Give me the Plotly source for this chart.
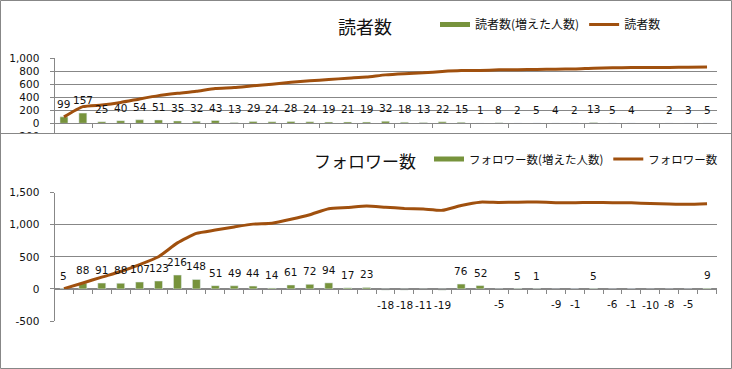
import plotly.graph_objects as go

# ---------------- data ----------------
categories = list(range(35))

reader_increase = [99, 157, 25, 40, 54, 51, 35, 32, 43, 13, 29, 24, 28, 24, 19, 21, 19, 32,
                   18, 13, 22, 15, 1, 8, 2, 5, 4, 2, 13, 5, 4, None, 2, 3, 5]
reader_total = [99, 256, 281, 321, 375, 426, 461, 493, 536, 549, 578, 602, 630, 654, 673, 694,
                713, 745, 763, 776, 798, 813, 814, 822, 824, 829, 833, 835, 848, 853, 857, 857,
                859, 862, 867]

follower_increase = [5, 88, 91, 88, 107, 123, 216, 148, 51, 49, 44, 14, 61, 72, 94, 17, 23,
                     -18, -18, -11, -19, 76, 52, -5, 5, 1, -9, -1, 5, -6, -1, -10, -8, -5, 9]
follower_total = [5, 93, 184, 272, 379, 502, 718, 866, 917, 966, 1010, 1024, 1085, 1157, 1251,
                  1268, 1291, 1273, 1255, 1244, 1225, 1301, 1353, 1348, 1353, 1354, 1345, 1344,
                  1349, 1343, 1342, 1332, 1324, 1319, 1328]

top_ticks = [-200, 0, 200, 400, 600, 800, 1000]
top_ticktext = ["-200", "0", "200", "400", "600", "800", "1,000"]
bot_ticks = [-500, 0, 500, 1000, 1500]
bot_ticktext = ["-500", "0", "500", "1,000", "1,500"]

top_title = "読者数"
top_bar_name = "読者数(増えた人数)"
top_line_name = "読者数"
bot_title = "フォロワー数"
bot_bar_name = "フォロワー数(増えた人数)"
bot_line_name = "フォロワー数"

# ---------------- style ----------------
W, H = 732, 369
BAR = "#77933C"
LINE = "#A0500E"
GRID = "#878787"
NUMFONT = dict(family="DejaVu Sans", size=10.5, color="#111")
CJK = "Noto Sans CJK JP"


def py(p):  # pixel y -> paper
    return 1 - p / H


def px(p):
    return p / W


xdom = [px(54.5), px(716.5)]
top_dom = [py(136.3), py(58.3)]
bot_dom = [py(321.0), py(192.7)]
top_range = [-200, 1000]
bot_range = [-500, 1500]


def zero_pos(dom, rng):
    return dom[0] + (0 - rng[0]) / (rng[1] - rng[0]) * (dom[1] - dom[0])


fig = go.Figure()

# top chart
fig.add_trace(go.Bar(x=categories, y=reader_increase, marker_color=BAR, width=0.42,
                     showlegend=False, xaxis="x", yaxis="y", hoverinfo="skip"))
fig.add_trace(go.Scatter(x=[None], y=[None], mode="lines", line=dict(color=BAR, width=5),
                         name=top_bar_name, legend="legend", xaxis="x", yaxis="y"))
fig.add_trace(go.Scatter(x=categories, y=reader_total, mode="lines",
                         line=dict(color=LINE, width=3, shape="spline", smoothing=0.5),
                         name=top_line_name, legend="legend", xaxis="x", yaxis="y"))

# bottom chart
fig.add_trace(go.Bar(x=categories, y=follower_increase, marker_color=BAR, width=0.42,
                     showlegend=False, xaxis="x2", yaxis="y2", hoverinfo="skip"))
fig.add_trace(go.Scatter(x=[None], y=[None], mode="lines", line=dict(color=BAR, width=5),
                         name=bot_bar_name, legend="legend2", xaxis="x2", yaxis="y2"))
fig.add_trace(go.Scatter(x=categories, y=follower_total, mode="lines",
                         line=dict(color=LINE, width=3, shape="spline", smoothing=0.5),
                         name=bot_line_name, legend="legend2", xaxis="x2", yaxis="y2"))

annotations = []


def add_labels(vals, xref, yref):
    for i, v in zip(categories, vals):
        if v is None:
            continue
        annotations.append(dict(x=i, y=v, xref=xref, yref=yref, text=str(v), showarrow=False,
                                yshift=13 if v >= 0 else -15, font=NUMFONT,
                                xanchor="center", yanchor="middle"))


add_labels(reader_increase, "x", "y")
add_labels(follower_increase, "x2", "y2")

annotations.append(dict(x=px(365), y=py(26), xref="paper", yref="paper", text=top_title,
                        showarrow=False, font=dict(family=CJK, size=18, color="#111"),
                        xanchor="center", yanchor="middle"))
annotations.append(dict(x=px(365), y=py(160), xref="paper", yref="paper", text=bot_title,
                        showarrow=False, font=dict(family=CJK, size=17, color="#111"),
                        xanchor="center", yanchor="middle"))

axis_common_y = dict(showline=True, linecolor=GRID, linewidth=1, showgrid=True, gridcolor=GRID,
                     gridwidth=1, zeroline=False, ticks="outside", ticklen=4, tickcolor=GRID,
                     tickfont=NUMFONT, ticklabelstandoff=8, fixedrange=True, automargin=False)
axis_common_x = dict(range=[-0.5, 34.5], showline=True, linecolor=GRID, linewidth=1,
                     showgrid=False, zeroline=False, ticks="outside", ticklen=4, tickcolor=GRID,
                     showticklabels=False, tickmode="array", fixedrange=True, automargin=False)

shapes = [
    # clip the top chart at its frame
    dict(type="rect", xref="paper", yref="paper", x0=0, x1=1, y0=py(142), y1=py(133.5),
         fillcolor="white", line=dict(width=0), layer="above"),
    dict(type="line", xref="paper", yref="paper", x0=0, x1=1, y0=py(133.5), y1=py(133.5),
         line=dict(color=GRID, width=1), layer="above"),
    dict(type="rect", xref="paper", yref="paper", x0=px(0.5), x1=px(731.5), y0=py(368.5),
         y1=py(0.5), line=dict(color=GRID, width=1), layer="above"),
]

fig.update_layout(
    width=W, height=H, margin=dict(l=0, r=0, t=0, b=0, pad=0, autoexpand=False),
    paper_bgcolor="white", plot_bgcolor="white", barmode="overlay",
    xaxis=dict(domain=xdom, anchor="free", position=zero_pos(top_dom, top_range),
               tickvals=[k + 1.5 for k in range(0, 34, 2)], **axis_common_x),
    yaxis=dict(domain=top_dom, range=top_range, tickvals=top_ticks, ticktext=top_ticktext,
               anchor="x", **axis_common_y),
    xaxis2=dict(domain=xdom, anchor="free", position=zero_pos(bot_dom, bot_range),
                tickvals=[k + 0.5 for k in range(35)], **axis_common_x),
    yaxis2=dict(domain=bot_dom, range=bot_range, tickvals=bot_ticks, ticktext=bot_ticktext,
                anchor="x2", **axis_common_y),
    legend=dict(orientation="h", x=px(435), y=py(24.5), xanchor="left", yanchor="middle",
                font=dict(family=CJK, size=12, color="#111"), bgcolor="rgba(0,0,0,0)",
                itemclick=False, itemdoubleclick=False),
    legend2=dict(orientation="h", x=px(429), y=py(159), xanchor="left", yanchor="middle",
                 font=dict(family=CJK, size=11.5, color="#111"), bgcolor="rgba(0,0,0,0)",
                 itemclick=False, itemdoubleclick=False),
    annotations=annotations,
    shapes=shapes,
    showlegend=True,
)

fig.write_html("out.html", config={"displayModeBar": False},
               post_script=("document.body.style.margin='0';"
                            "document.body.style.overflow='hidden';"
                            "document.documentElement.style.overflow='hidden';"))
